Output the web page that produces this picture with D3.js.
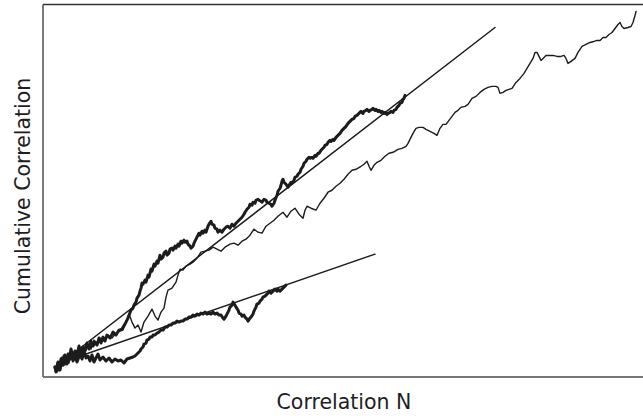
<!DOCTYPE html>
<html>
<head>
<meta charset="utf-8">
<script src="https://cdn.jsdelivr.net/npm/d3@7"></script>
<style>
  html, body { margin: 0; padding: 0; background: #fff; }
  svg { display: block; }
  text { font-family: "DejaVu Sans", sans-serif; fill: #1e1e1e; }
</style>
</head>
<body>
<svg id="chart" width="643" height="419"></svg>
<script>
// Cumulative correlation against number of correlations, three samples.
// Each point is [N, cumulative correlation].
const sampleThin = [
  [0,1],[2,-4],[4,4],[6,0],[8,9],[10,3],[12,11],[14,5],[16,14],[18,7],[20,16],[22,10],[24,18],
  [26,13],[28,19],[30,15],[33,23],[36,19],[39,28],[42,24],[45,30],[49,27],[53,33],[57,30],
  [61,35],[65,37],[68,38],[71,46],[74,54],[77,46],[80,40],[83,43],[86,36],[89,46],[93,52],
  [97,59],[100,52],[103,48],[106,56],[109,60],[111,71],[113,78],[117,80],[121,86],[123,93],
  [125,99],[128,98],[131,102],[135,104],[138,106],[142,110],[146,116],[150,117],[154,118],
  [158,121],[162,119],[166,117],[170,121],[175,124],[179,125],[183,123],[187,127],[191,129],
  [195,133],[199,139],[203,136],[207,135],[211,142],[215,145],[219,148],[223,152],[228,156],
  [232,151],[236,157],[240,160],[244,154],[248,150],[250,158],[252,162],[256,160],[261,158],
  [265,165],[269,170],[273,176],[277,178],[281,182],[285,185],[289,189],[293,194],[297,198],
  [301,199],[306,202],[309,204],[312,207],[314,202],[316,198],[319,203],[322,206],[326,208],
  [330,212],[334,215],[338,216],[343,219],[347,220],[351,222],[353,225],[355,229],[358,235],
  [361,240],[364,241],[368,241],[371,239],[375,237],[379,235],[382,233],[385,240],[388,244],
  [391,244],[394,248],[397,252],[400,256],[403,258],[406,261],[410,262],[413,264],[417,270],
  [421,272],[425,276],[429,279],[433,281],[437,282],[441,282],[443,281],[445,275],[448,276],
  [451,278],[454,279],[457,280],[461,286],[465,290],[469,295],[472,300],[475,305],[478,310],
  [480,316],[482,316],[484,312],[486,308],[488,310],[491,313],[494,313],[498,313],[502,312],
  [506,312],[509,313],[511,310],[513,305],[516,307],[520,310],[523,316],[527,322],[531,324],
  [535,326],[539,327],[542,328],[545,328],[548,331],[551,331],[554,334],[557,336],[560,340],
  [563,344],[565,346],[567,342],[569,340],[573,341],[576,342],[578,346],[580,353],[581,357]
];

const sampleHigh = [
  [0,1],[1,-3],[3,6],[4,-2],[6,9],[8,3],[9,12],[11,5],[13,14],[14,8],[16,19],[18,11],[20,17],
  [22,13],[24,22],[26,15],[28,21],[30,18],[32,25],[34,19],[36,27],[38,22],[40,26],[42,23],
  [44,30],[46,25],[48,31],[50,27],[52,33],[55,30],[58,36],[61,33],[64,38],[67,39],[70,44],
  [73,50],[76,58],[78,60],[79,63],[81,66],[82,70],[84,73],[85,77],[86,80],[87,85],[88,84],
  [90,88],[91,86],[93,93],[94,91],[96,99],[97,97],[99,104],[100,102],[102,107],[103,105],
  [105,113],[106,109],[108,111],[109,115],[111,117],[112,113],[114,115],[115,119],[117,120],
  [118,118],[120,122],[121,120],[123,124],[124,122],[126,127],[127,125],[129,128],[130,126],
  [132,127],[133,124],[135,122],[136,120],[138,122],[139,125],[141,129],[142,131],[144,135],
  [145,133],[147,137],[148,135],[150,138],[151,136],[153,142],[154,144],[156,147],[157,144],
  [159,143],[160,140],[162,139],[163,136],[165,138],[167,136],[169,139],[171,141],[173,142],
  [175,140],[177,144],[179,142],[181,145],[183,147],[185,149],[187,151],[189,154],[190,156],
  [192,159],[194,161],[195,164],[197,163],[198,166],[200,165],[201,168],[203,169],[204,168],
  [206,167],[207,166],[209,169],[211,168],[212,166],[214,165],[216,164],[217,162],[219,165],
  [220,168],[222,173],[223,177],[225,180],[226,183],[227,187],[228,189],[229,186],[231,184],
  [233,181],[234,183],[236,186],[237,185],[239,188],[240,191],[242,192],[243,194],[245,196],
  [246,199],[248,202],[249,205],[251,207],[252,209],[254,211],[255,210],[257,211],[258,210],
  [260,213],[261,212],[263,215],[264,215],[266,218],[267,219],[269,221],[270,223],[272,224],
  [273,226],[275,228],[276,227],[278,229],[279,228],[281,231],[282,232],[284,234],[285,235],
  [287,238],[288,239],[290,241],[291,242],[293,245],[294,246],[296,248],[297,249],[299,250],
  [300,252],[302,253],[303,254],[305,256],[306,257],[308,255],[309,257],[311,258],[312,259],
  [314,257],[315,258],[317,259],[318,260],[320,258],[321,259],[323,257],[324,258],[326,256],
  [327,257],[329,255],[330,256],[332,254],[333,255],[335,256],[336,257],[338,256],[339,258],
  [341,259],[342,261],[344,263],[345,265],[347,266],[348,269],[349,270],[350,273]
];

const sampleLow = [
  [0,1],[1,-4],[3,5],[5,-2],[7,10],[8,3],[10,13],[12,4],[14,9],[16,16],[18,7],[20,12],[22,6],
  [25,14],[27,9],[29,17],[31,10],[33,12],[35,7],[37,13],[39,6],[41,10],[43,14],[45,8],[48,11],
  [51,7],[54,10],[57,6],[60,9],[63,7],[66,8],[69,5],[72,9],[75,10],[78,11],[80,12],[82,14],
  [83,15],[85,17],[86,19],[88,21],[89,24],[91,25],[92,28],[94,29],[95,31],[97,31],[98,33],
  [100,33],[102,35],[104,36],[106,38],[108,38],[110,41],[112,41],[114,43],[116,43],[118,45],
  [120,45],[122,47],[124,46],[126,47],[128,47],[130,49],[132,49],[134,51],[136,51],[138,53],
  [140,52],[142,54],[144,53],[146,55],[148,54],[150,56],[152,54],[154,55],[156,54],[158,56],
  [160,54],[162,55],[164,53],[166,53],[168,50],[169,49],[171,52],[172,54],[174,58],[175,61],
  [177,63],[178,66],[180,63],[181,61],[183,58],[184,55],[186,54],[187,52],[189,53],[190,51],
  [192,49],[193,47],[195,50],[196,51],[198,54],[199,57],[201,61],[202,64],[204,65],[205,67],
  [207,69],[208,71],[210,72],[211,73],[213,75],[214,77],[216,75],[217,76],[219,78],[220,79],
  [222,77],[223,79],[225,77],[226,78],[228,80],[229,81],[231,83]
];

// Fitted trend lines: [start, end] in the same units.
const trendHigh = [[2,2],[440,341]];
const trendLow = [[5,5],[320,114]];

const xDomain = [-12, 588];
const yDomain = [-9, 364];

const xLabel = "Correlation N";
const yLabel = "Cumulative Correlation";

const svg = d3.select("#chart");
const plot = { left: 43, right: 643, top: 4.5, bottom: 377 };

const x = d3.scaleLinear().domain(xDomain).range([plot.left, plot.right]);
const y = d3.scaleLinear().domain(yDomain).range([plot.bottom, plot.top]);

const line = d3.line().x(d => x(d[0])).y(d => y(d[1]));

// Frame: top and left in dark ink, bottom a softer grey rule.
svg.append("line")
  .attr("x1", plot.left).attr("x2", plot.right)
  .attr("y1", plot.top).attr("y2", plot.top)
  .attr("stroke", "#333").attr("stroke-width", 1.3);
svg.append("line")
  .attr("x1", plot.left).attr("x2", plot.left)
  .attr("y1", plot.top).attr("y2", plot.bottom)
  .attr("stroke", "#333").attr("stroke-width", 1.3);
svg.append("line")
  .attr("x1", plot.left).attr("x2", plot.right)
  .attr("y1", plot.bottom).attr("y2", plot.bottom)
  .attr("stroke", "#777").attr("stroke-width", 1.8);

const g = svg.append("g")
  .attr("fill", "none")
  .attr("stroke", "#1c1c1c")
  .attr("stroke-linejoin", "round")
  .attr("stroke-linecap", "round");

g.append("path").datum(trendHigh).attr("d", line).attr("stroke-width", 1.5);
g.append("path").datum(trendLow).attr("d", line).attr("stroke-width", 1.5);
g.append("path").datum(sampleThin).attr("d", line).attr("stroke-width", 1.4);
g.append("path").datum(sampleHigh).attr("d", line).attr("stroke-width", 3);
g.append("path").datum(sampleLow).attr("d", line).attr("stroke-width", 3);

svg.append("text")
  .attr("x", 344)
  .attr("y", 409)
  .attr("text-anchor", "middle")
  .attr("font-size", 20.5)
  .text(xLabel);

svg.append("text")
  .attr("transform", "translate(30,196) rotate(-90)")
  .attr("text-anchor", "middle")
  .attr("font-size", 20.5)
  .text(yLabel);
</script>
</body>
</html>
